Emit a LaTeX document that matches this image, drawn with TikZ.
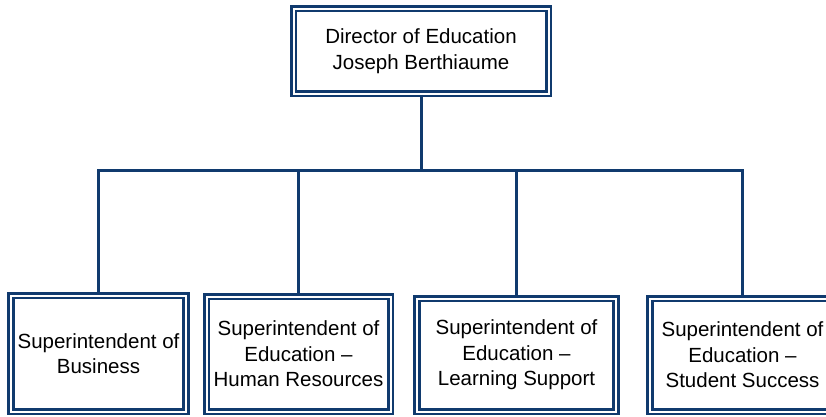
\documentclass[tikz,border=0pt]{standalone}
\usepackage{fontspec}
\setmainfont{Liberation Sans}
\definecolor{navy}{RGB}{16,58,110}

\begin{document}
\begin{tikzpicture}[x=1pt,y=-1pt,
    post/.style={draw=navy,fill=white,double=white,line width=2.6pt,double distance=2pt,
      inner sep=0pt,align=center,font=\fontsize{20.5}{25.5}\selectfont},
    link/.style={draw=navy,line width=3pt}]
        \useasboundingbox (0,0) rectangle (826,416);

        \node [post,minimum width=255pt,minimum height=85pt] at (421,51) (top) {Director of Education\\Joseph Berthiaume};
        \node [post,minimum width=175pt,minimum height=116pt] at (98.5,353.5) (b1) {Superintendent of\\Business};
        \node [post,minimum width=184pt,minimum height=115pt] at (298.5,354) (b2) {Superintendent of\\Education --\\Human Resources};
        \node [post,minimum width=199pt,minimum height=113pt] at (516.5,355) (b3) {Superintendent of\\Education --\\Learning Support};
        \node [post,minimum width=185pt,minimum height=113pt] at (742.5,355) (b4) {Superintendent of\\Education --\\Student Success};
        \coordinate (bus) at (421.5,170.5);

        \draw [link] (top.south) -- (top.south |- bus);
        \draw [link] (b1.north) -- (b1.north |- bus) -- (b4.north |- bus) -- (b4.north);
        \foreach \b in {b2,b3}
          \draw [link] (\b.north) -- (\b.north |- bus);
      \end{tikzpicture}
\end{document}
